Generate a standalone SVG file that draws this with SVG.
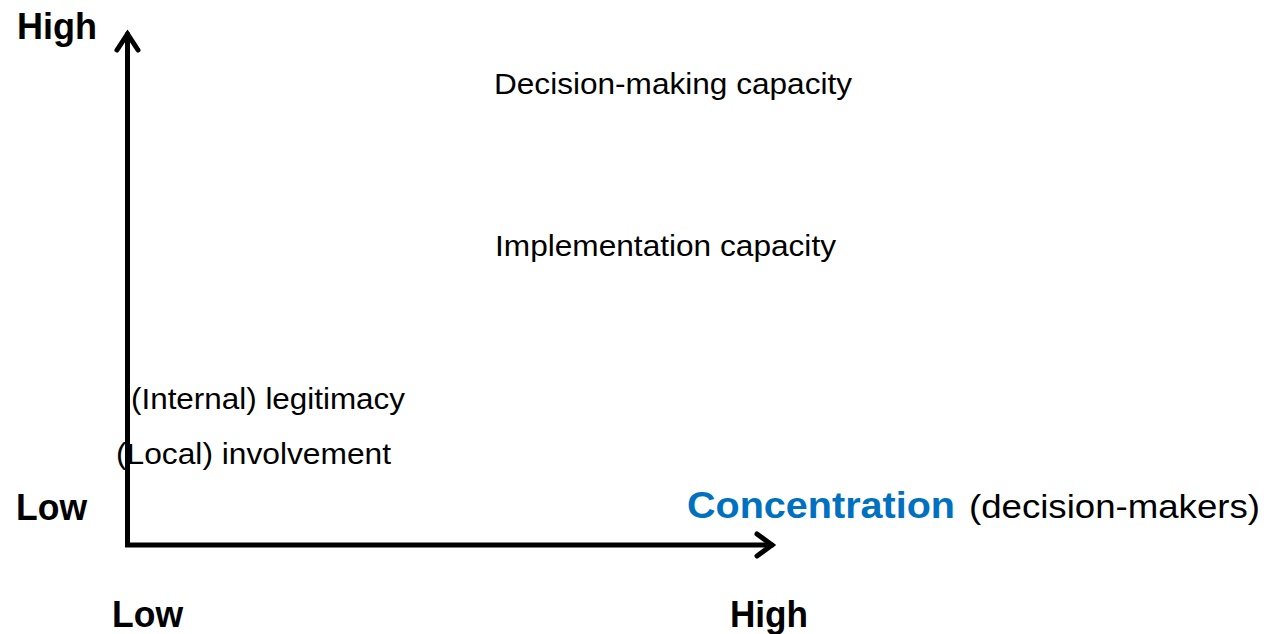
<svg xmlns="http://www.w3.org/2000/svg" width="1267" height="634" viewBox="0 0 1267 634">
<style>
.t{font-family:"Liberation Sans",Arial,sans-serif;fill:#000;}
.b{font-weight:bold;font-size:36px;}
.n{font-size:30px;}
.ax{fill:none;stroke:#000;stroke-width:5;stroke-linejoin:miter;stroke-linecap:round;}
</style>
<rect width="1267" height="634" fill="#fff"/>
<g id="connectors">
<polyline class="ax" points="127.5,34 127.5,545 772,545"/>
<polyline class="ax" points="117,50 127.5,34 138,50"/>
<polyline class="ax" points="757,534 772,545 757,556"/>
</g>
<g id="axis-labels">
<text class="t b" x="17" y="39" textLength="80" lengthAdjust="spacingAndGlyphs">High</text>
<text class="t b" x="16" y="520" textLength="71" lengthAdjust="spacingAndGlyphs">Low</text>
<text class="t b" x="112" y="627" textLength="71" lengthAdjust="spacingAndGlyphs">Low</text>
<text class="t b" x="730" y="627" textLength="78" lengthAdjust="spacingAndGlyphs">High</text>
</g>
<g id="x-title">
<text class="t" x="687" y="518" style="font-weight:bold;font-size:37px;fill:#0070C0" textLength="268" lengthAdjust="spacingAndGlyphs">Concentration</text>
<text class="t" x="969" y="518" style="font-size:34px" textLength="291" lengthAdjust="spacingAndGlyphs">(decision-makers)</text>
</g>
<g id="node-decision">
<text class="t n" x="494" y="94" textLength="358" lengthAdjust="spacingAndGlyphs">Decision-making capacity</text>
</g>
<g id="node-implementation">
<text class="t n" x="495" y="256" textLength="341" lengthAdjust="spacingAndGlyphs">Implementation capacity</text>
</g>
<g id="node-legitimacy">
<text class="t n" x="131" y="409" textLength="274" lengthAdjust="spacingAndGlyphs">(Internal) legitimacy</text>
</g>
<g id="node-involvement">
<text class="t n" x="116" y="464" textLength="275" lengthAdjust="spacingAndGlyphs">(Local) involvement</text>
</g>
</svg>
